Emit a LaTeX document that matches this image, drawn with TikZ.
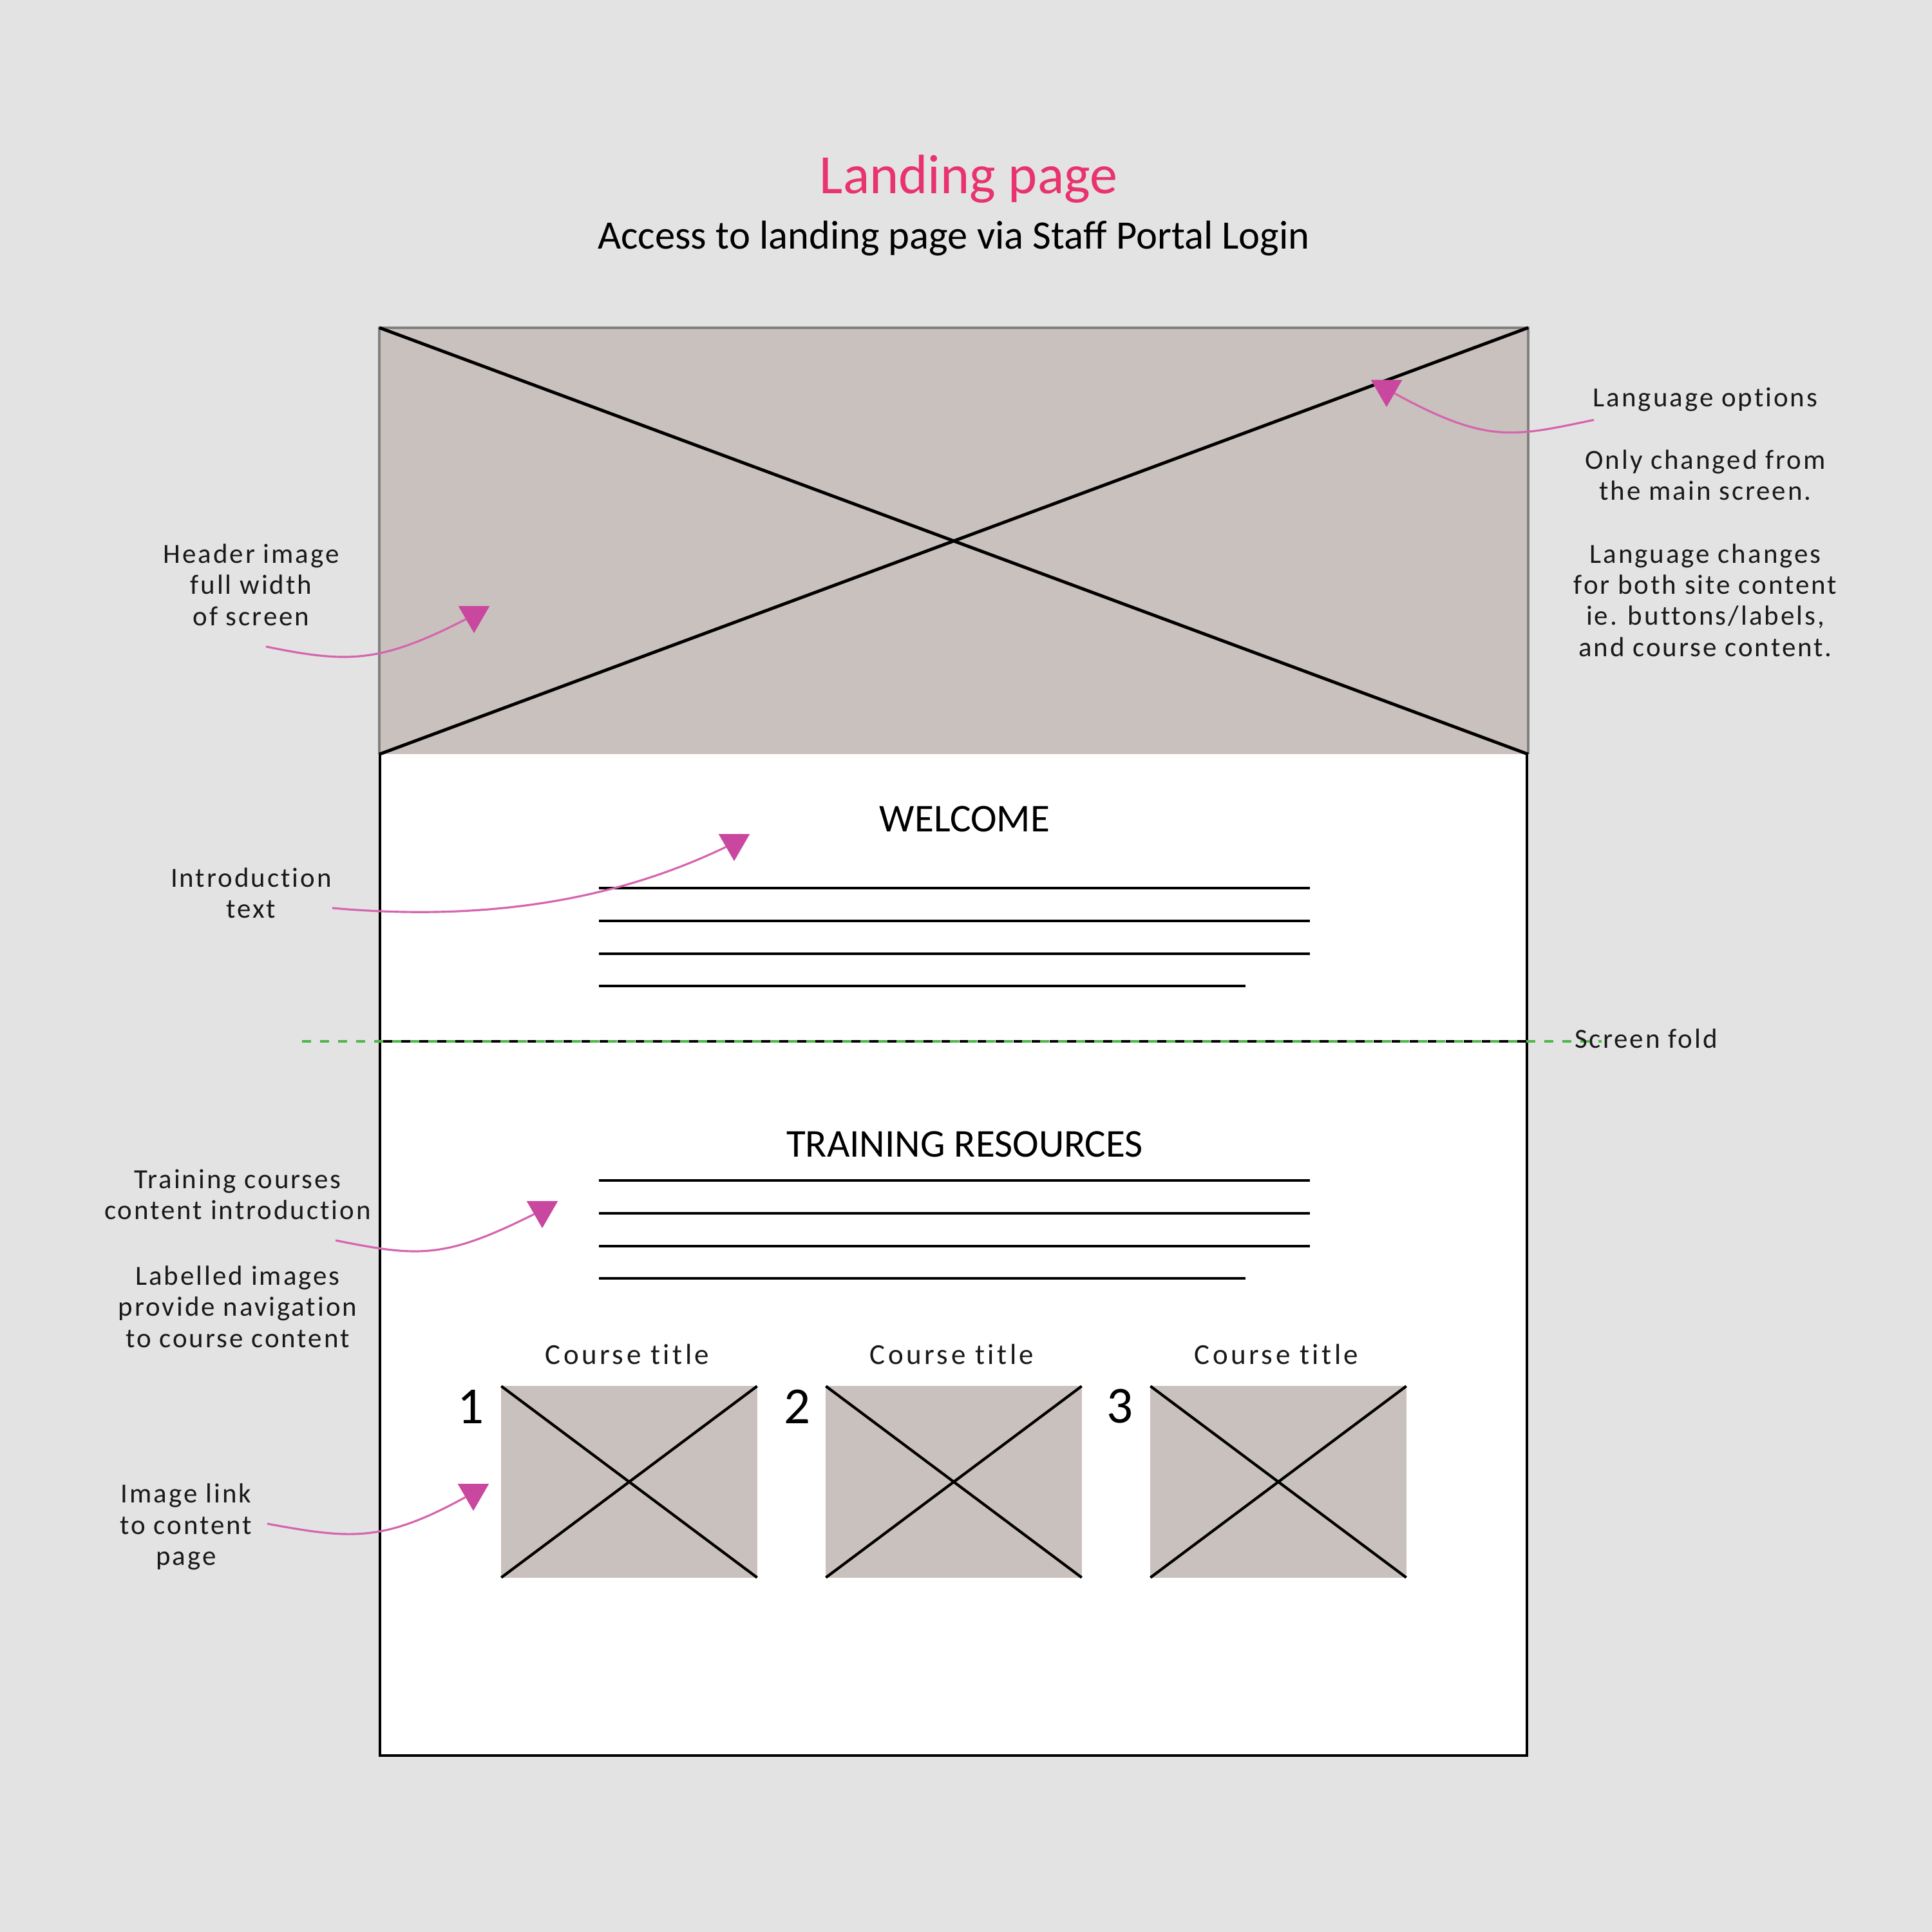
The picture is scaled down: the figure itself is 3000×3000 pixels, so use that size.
\documentclass[tikz,border=0pt]{standalone}
\usepackage{fontspec}
\setmainfont{Carlito}
\newfontfamily\noteFont[LetterSpace=7, Ligatures=NoCommon]{Carlito}
\newfontfamily\courseFont[LetterSpace=10, Ligatures=NoCommon]{Carlito}
\usetikzlibrary{shapes.geometric, positioning}
\definecolor{pageGrey}{HTML}{E3E3E3}
\definecolor{imageTaupe}{HTML}{C9C1BD}
\definecolor{titlePink}{HTML}{E8336E}
\definecolor{notePink}{HTML}{C9479F}
\definecolor{curvePink}{HTML}{D565AE}
\definecolor{foldGreen}{HTML}{4DB848}
\tikzset{
    % Wireframe
    headerBox/.style={rectangle, fill=imageTaupe, outer sep=0pt, inner sep=0pt, minimum width=17.83cm, minimum height=6.62cm},
    thumbBox/.style={rectangle, fill=imageTaupe, outer sep=0pt, inner sep=0pt, minimum width=3.97cm, minimum height=2.97cm},
    crossLine/.style={draw=black, line width=1.2pt},
    headerCross/.style={draw=black, line width=1.4pt},
    textLine/.style={draw=black, line width=1.4pt},
    % Notes
    noteText/.style={font=\noteFont\fontsize{12.2}{13.76}\selectfont, align=center, text=black!90},
    courseText/.style={font=\courseFont\fontsize{12.8}{14}\selectfont, text=black!90},
    noteTip/.style={regular polygon, regular polygon sides=3, shape border rotate=180, fill=notePink, minimum size=0.56cm, inner sep=0pt, outer sep=0pt},
    noteCurve/.style={draw=curvePink, line width=0.9pt},
    sectionHead/.style={font=\fontsize{17.4}{20}\selectfont, text=black},
    thumbNum/.style={font=\fontsize{23}{26}\selectfont, text=black}
}
\begin{document}
\begin{tikzpicture}[x=0.01cm, y=-0.01cm]
    \useasboundingbox[fill=pageGrey] (0,0) rectangle (3000,3000);

    % Titles
    \node[font=\fontsize{24.5}{28}\selectfont, text=titlePink] (pageTitle) at (1504,278) {Landing page};
    \node[font=\fontsize{17.8}{20}\selectfont, text=black] (pageSub) at (1481,370) {Access to landing page via Staff Portal Login};

    % Page and header
    \fill[white] (590,1169) rectangle (2371,2726);
    \draw[draw=black, line width=1.4pt] (590,1169) -- (590,2726) -- (2371,2726) -- (2371,1169);
    \node[headerBox] (headerImg) at (1481,840) {};
    \draw[draw=black!50, line width=1pt] (headerImg.south west) -- (headerImg.north west) -- (headerImg.north east) -- (headerImg.south east);
    \draw[headerCross] (headerImg.north west) -- (headerImg.south east);
    \draw[headerCross] (headerImg.south west) -- (headerImg.north east);

    % Welcome block
    \node[sectionHead] (welcomeHead) at (1498,1272) {WELCOME};
    \foreach \y in {1379,1430,1481} \draw[textLine] (930,\y) -- (2034,\y);
    \draw[textLine] (930,1531) -- (1934,1531);

    % Screen fold
    \draw[black, line width=1.4pt, dash pattern=on 3.97pt off 3.98pt, dash phase=6.5pt] (590,1617) -- (2371,1617);
    \draw[foldGreen, line width=1.3pt, dash pattern=on 3.97pt off 3.98pt] (469,1617) -- (2487,1617);
    \node[noteText] (foldNote) at (2556,1613) {Screen fold};

    % Training block
    \node[sectionHead] (trainingHead) at (1498,1777) {TRAINING RESOURCES};
    \foreach \y in {1833,1884,1935} \draw[textLine] (930,\y) -- (2034,\y);
    \draw[textLine] (930,1985) -- (1934,1985);

    % Course images
    \foreach \n/\xc/\xn in {1/977/731, 2/1481/1238, 3/1985/1739}{
        \node[thumbBox] (thumb\n) at (\xc,2301) {};
        \draw[crossLine] (thumb\n.north west) -- (thumb\n.south east);
        \draw[crossLine] (thumb\n.south west) -- (thumb\n.north east);
        \node[courseText] (course\n) at (\xc-3,2103) {Course title};
        \node[thumbNum] (num\n) at (\xn,2184) {\n};
    }

    % Left notes
    \node[noteText] (headerNote) at (390,908) {Header image\\full width\\of screen};
    \node[noteText] (introNote) at (390,1387) {Introduction\\text};
    \node[noteText] (coursesNote) at (369,1855) {Training courses\\content introduction};
    \node[noteText] (labelNote) at (369,2029) {Labelled images\\provide navigation\\to course content};
    \node[noteText] (linkNote) at (289,2371) {Image link\\to content\\page};

    % Right notes
    \node[noteText] (langNote) at (2648,620) {Language options};
    \node[noteText] (onlyNote) at (2648,738) {Only changed from\\the main screen.};
    \node[noteText] (bothNote) at (2648,932) {Language changes\\for both site content\\ie. buttons/labels,\\and course content.};

    % Pointers
    \node[noteTip] (tipHeader) at (736,955) {};
    \node[noteTip] (tipIntro) at (1140,1309) {};
    \node[noteTip] (tipCourses) at (842,1879) {};
    \node[noteTip] (tipLink) at (735,2318) {};
    \node[noteTip] (tipLang) at (2153,604) {};
    \coordinate (fromHeader) at (413,1004);
    \coordinate (fromIntro) at (516,1410);
    \coordinate (fromCourses) at (521,1926);
    \coordinate (fromLink) at (415,2366);
    \coordinate (fromLang) at (2475,652);
    \draw[noteCurve] (fromHeader) .. controls (540,1030) and (590,1030) .. (tipHeader);
    \draw[noteCurve] (fromIntro) .. controls (720,1428) and (930,1410) .. (tipIntro);
    \draw[noteCurve] (fromCourses) .. controls (650,1952) and (690,1955) .. (tipCourses);
    \draw[noteCurve] (fromLink) .. controls (545,2390) and (595,2395) .. (tipLink);
    \draw[noteCurve] (fromLang) .. controls (2350,678) and (2310,690) .. (tipLang);
\end{tikzpicture}
\end{document}
